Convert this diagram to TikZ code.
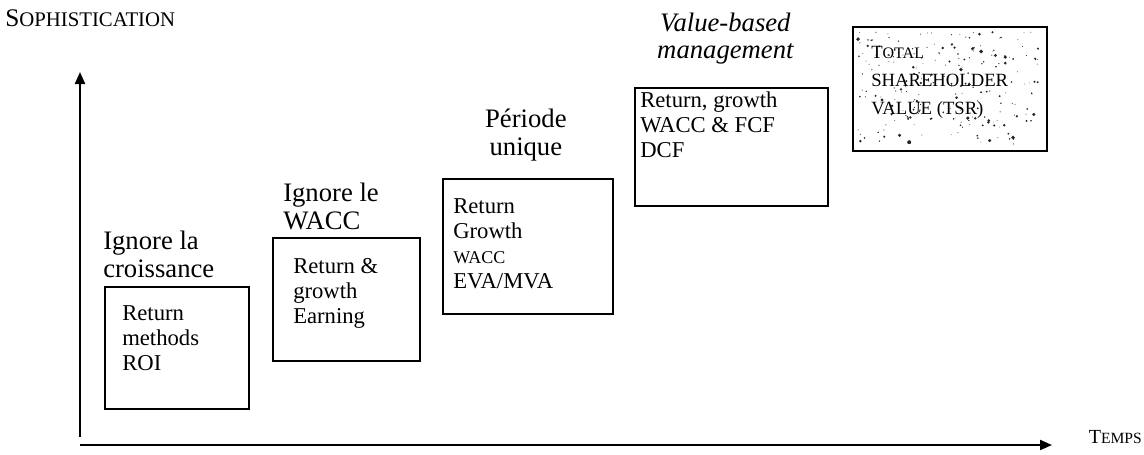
\documentclass[tikz,border=0pt]{standalone}
\usepackage{fontspec}
\setmainfont{Liberation Serif}
\usepackage{tikz}
\usetikzlibrary{arrows.meta,positioning}
\tikzset{
  axis/.style={-{Triangle[length=9pt,width=7.5pt]}, line width=1.6pt},
  stage box/.style={draw, line width=1.3pt, anchor=north west, inner sep=0pt},
  stage title/.style={font=\fontsize{20}{21}\selectfont, align=left,
    inner sep=0pt},
  stage text/.style={font=\fontsize{17}{18.75}\selectfont, align=left,
    inner sep=0pt, anchor=north west},
  tsr text/.style={font=\fontsize{14}{21}\selectfont, align=left,
    inner sep=0pt, anchor=north west},
  axis label/.style={inner sep=0pt},
  speck/.style={fill=black!85}
}
% capital + smaller capitals
\newcommand{\fakesc}[4]{\pgfmathsetmacro\scsize{#2*#1}%
  {\fontsize{#1pt}{#1pt}\selectfont #3\fontsize{\scsize pt}{#1pt}\selectfont #4}}

\begin{document}
\begin{tikzpicture}[x=0.75pt, y=-0.75pt]
  \useasboundingbox (0,0) rectangle (1144,454);
  % axes
  \coordinate (yfoot) at (80,437);
  \coordinate (ytip) at (80,72);
  \coordinate (xfoot) at (80,445);
  \coordinate (xtip) at (1052,445);
  \draw[axis] (yfoot) -- (ytip);
  \draw[axis] (xfoot) -- (xtip);
  \node[axis label, anchor=base west] (soph) at (5,26) {\fakesc{19}{0.82}{S}{OPHISTICATION}};
  \node[axis label, anchor=base east] (temps) at (1142,443) {\fakesc{15}{0.78}{T}{EMPS}};
  % stages
  \node[stage box, minimum width=108pt, minimum height=91.5pt] (ret) at (104,286) {};
  \node[stage box, minimum width=110.25pt, minimum height=92.25pt] (earn) at (272,237) {};
  \node[stage box, minimum width=127.5pt, minimum height=101.25pt] (eva) at (442,178) {};
  \node[stage box, minimum width=144.75pt, minimum height=88.5pt] (dcf) at (634,87) {};
  % speckled TSR box
  \pgfmathsetseed{11}
  \foreach \k in {1,...,230}{
    \pgfmathsetmacro\sx{858+rnd*182}
    \pgfmathsetmacro\sy{32+rnd*112}
    \pgfmathsetmacro\sr{0.3+rnd*rnd*1.3}
    \fill[speck] (\sx,\sy) circle (\sr pt);
  }
  \node[stage box, minimum width=145.5pt, minimum height=93pt] (tsr) at (852,26) {};

  \node[stage text, below right=14.25pt and 13.5pt of ret.north west] (ret-txt)
    {Return\\methods\\ROI};
  \node[stage text, below right=15.75pt and 15.75pt of earn.north west] (earn-txt)
    {Return \&\\growth\\Earning};
  \node[stage text, below right=15pt and 8.25pt of eva.north west] (eva-txt)
    {Return\\Growth\\{\fontsize{13.5}{18.75}\selectfont WACC}\\EVA/MVA};
  \node[stage text, below right=3.75pt and 4.5pt of dcf.north west] (dcf-txt)
    {Return, growth\\WACC \& FCF\\DCF};
  \node[tsr text, below right=15pt and 14.25pt of tsr.north west] (tsr-txt)
    {T{\fontsize{12}{21}\selectfont OTAL}\\SHAREHOLDER\\VALUE (TSR)};

  \node[stage title, anchor=south west, above right=6pt and -0.75pt of ret.north west] (croiss)
    {Ignore la\\croissance};
  \node[stage title, anchor=south west, above right=5.25pt and 8.25pt of earn.north west] (wacc)
    {Ignore le\\WACC};
  \node[stage title, align=center, above=12.75pt of eva.north, xshift=-1.5pt] (period)
    {Période\\unique};
  \node[stage title, align=center, font=\fontsize{20}{20}\selectfont\itshape,
    above=17.25pt of dcf.north, xshift=-4.5pt] (vbm)
    {Value-based\\management};
\end{tikzpicture}
\end{document}
